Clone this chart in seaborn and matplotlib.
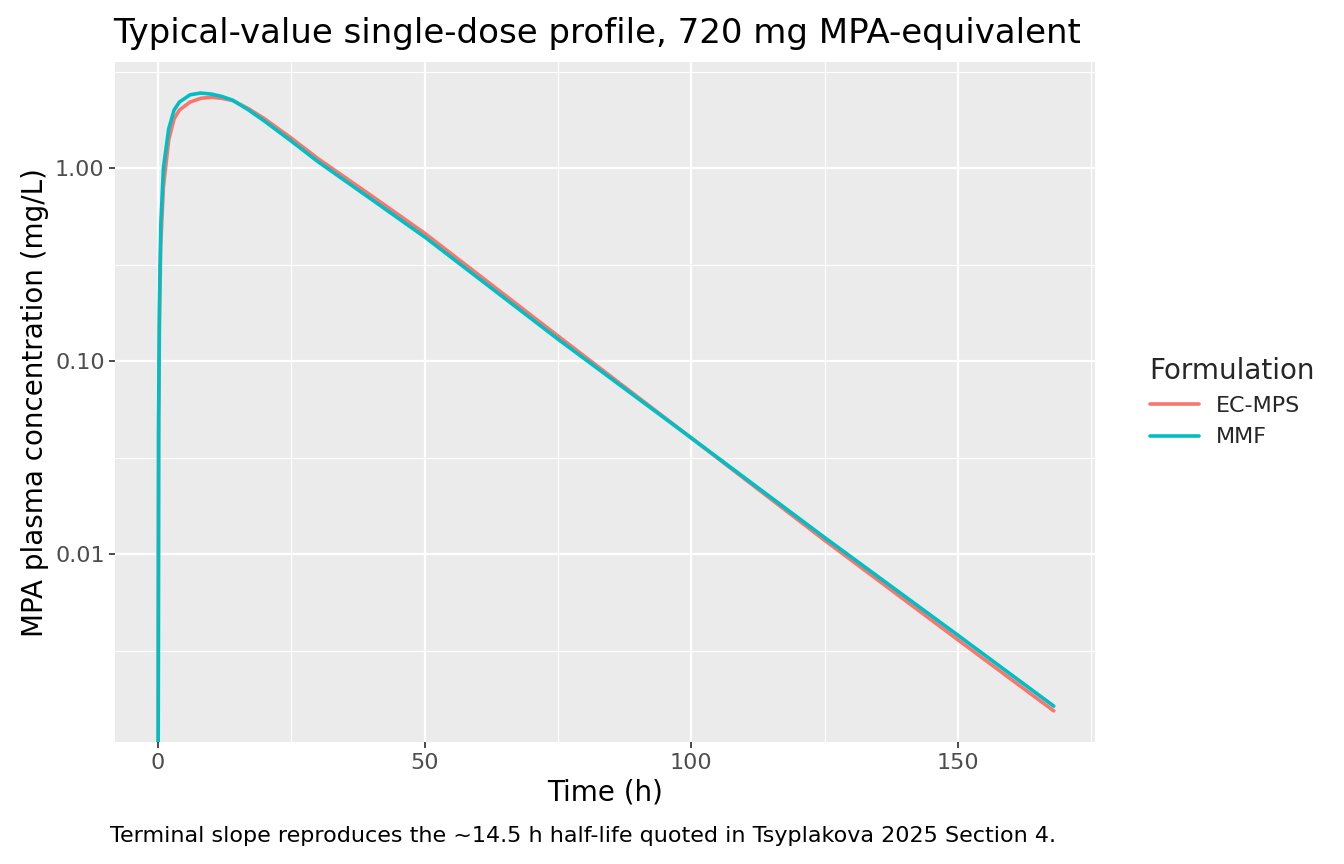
import numpy as np
import pandas as pd
import matplotlib.pyplot as plt
import seaborn as sns
from matplotlib.ticker import FixedLocator, NullFormatter

# Values (time in h, concentration in mg/L)
time_h = [0.02, 0.1, 0.25, 0.5, 1, 2, 3, 4, 6, 8, 10, 12, 14, 17, 20, 25, 30, 40, 50, 75, 100, 125, 150, 168]
conc_mmf = [0.001, 0.05, 0.2, 0.5, 1.0, 1.6, 2.0, 2.2, 2.4, 2.45, 2.42, 2.35, 2.25, 2.0, 1.75, 1.38, 1.08,
            0.69, 0.44, 0.13, 0.040, 0.0122, 0.0038, 0.00163]
conc_ecmps = [0.0008, 0.04, 0.15, 0.4, 0.8, 1.4, 1.8, 2.0, 2.2, 2.3, 2.33, 2.3, 2.24, 2.03, 1.8, 1.43, 1.12,
              0.72, 0.46, 0.135, 0.040, 0.0118, 0.0036, 0.00154]

df = pd.concat([
    pd.DataFrame({"time": time_h, "conc": conc_ecmps, "Formulation": "EC-MPS"}),
    pd.DataFrame({"time": time_h, "conc": conc_mmf, "Formulation": "MMF"}),
])

sns.set_theme(style="darkgrid", rc={"axes.facecolor": "#EBEBEB", "grid.color": "white"})
plt.rcParams["font.family"] = ["DejaVu Sans"]

fig = plt.figure(figsize=(13.44, 8.64), dpi=100)
ax = fig.add_axes([0.0856, 0.141, 0.815 - 0.0856, 0.928 - 0.141])
sns.lineplot(data=df, x="time", y="conc", hue="Formulation",
             palette={"EC-MPS": "#F8766D", "MMF": "#00BFC4"}, linewidth=2.6, ax=ax)
ax.set_yscale("log")
ax.set_ylim(0.00106, 3.54)
ax.set_xlim(-8.07, 175.8)

ax.yaxis.set_major_locator(FixedLocator([0.01, 0.1, 1.0]))
ax.set_yticklabels(["0.01", "0.10", "1.00"])
ax.yaxis.set_minor_locator(FixedLocator([0.00316, 0.0316, 0.316, 3.16]))
ax.yaxis.set_minor_formatter(NullFormatter())
ax.set_xticks([0, 50, 100, 150])
ax.xaxis.set_minor_locator(FixedLocator([25, 75, 125, 175]))
ax.grid(which="major", color="white", linewidth=1.6)
ax.grid(which="minor", color="white", linewidth=0.8)
ax.tick_params(which="major", length=4, color="#333333", labelsize=16, labelcolor="#4D4D4D", left=True, bottom=True)
ax.tick_params(which="minor", length=0)
for s in ax.spines.values():
    s.set_visible(False)

ax.set_xlabel("Time (h)", fontsize=20, color="black")
ax.set_ylabel("MPA plasma concentration (mg/L)", fontsize=20, color="black")
ax.set_title("Typical-value single-dose profile, 720 mg MPA-equivalent", fontsize=24.5,
             loc="left", x=-0.002, pad=14, color="black")

leg = ax.legend(title="Formulation", loc="center left", bbox_to_anchor=(1.035, 0.5),
                frameon=False, fontsize=16, title_fontsize=20, handlelength=2.2)
leg._legend_box.align = "left"

fig.text(1056 / 1344, 1 - 836 / 864, "Terminal slope reproduces the ~14.5 h half-life quoted in Tsyplakova 2025 Section 4.",
         ha="right", va="center", fontsize=16, color="black")

fig.savefig("out.png", dpi=100)
